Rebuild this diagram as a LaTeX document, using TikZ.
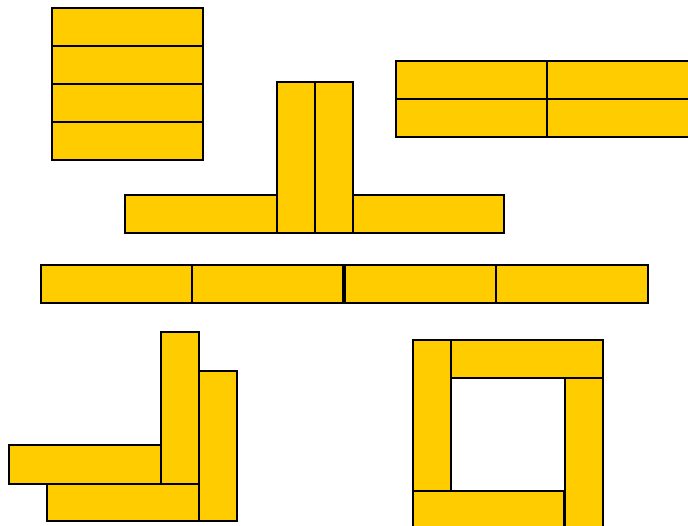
\documentclass[tikz,border=0pt]{standalone}
\definecolor{brickyellow}{HTML}{FFCC00}
\begin{document}
\begin{tikzpicture}[x=1pt,y=-1pt,
  brick/.style={fill=brickyellow,draw=black,line width=1.4pt,line join=miter}]
\useasboundingbox (0,0) rectangle (688,526);
\clip (0,0) rectangle (688,526);
% group 1: stack of four
\foreach \y in {8,46,84,122}{
  \draw[brick] (52,\y) rectangle (203,\y+38);
}
% group 2: T shape
\draw[brick] (125,195) rectangle (277,233);
\draw[brick] (353,195) rectangle (504,233);
\draw[brick] (277,82) rectangle (315,233);
\draw[brick] (315,82) rectangle (353,233);
% group 3: 2x2
\draw[brick] (396,61) rectangle (547,99);
\draw[brick] (547,61) rectangle (698,99);
\draw[brick] (396,99) rectangle (547,137);
\draw[brick] (547,99) rectangle (698,137);
% group 4: row of four
\draw[brick] (41,265) rectangle (192,303);
\draw[brick] (192,265) rectangle (343,303);
\draw[brick] (345,265) rectangle (496,303);
\draw[brick] (496,265) rectangle (648,303);
% group 5: corner
\draw[brick] (9,445) rectangle (161,484);
\draw[brick] (47,484) rectangle (199,521);
\draw[brick] (161,332) rectangle (199,484);
\draw[brick] (199,371) rectangle (237,521);
% group 6: pinwheel
\draw[brick] (413,340) rectangle (451,491);
\draw[brick] (451,340) rectangle (603,378);
\draw[brick] (565,378) rectangle (603,529);
\draw[brick] (413,491) rectangle (564,529);
\end{tikzpicture}
\end{document}
